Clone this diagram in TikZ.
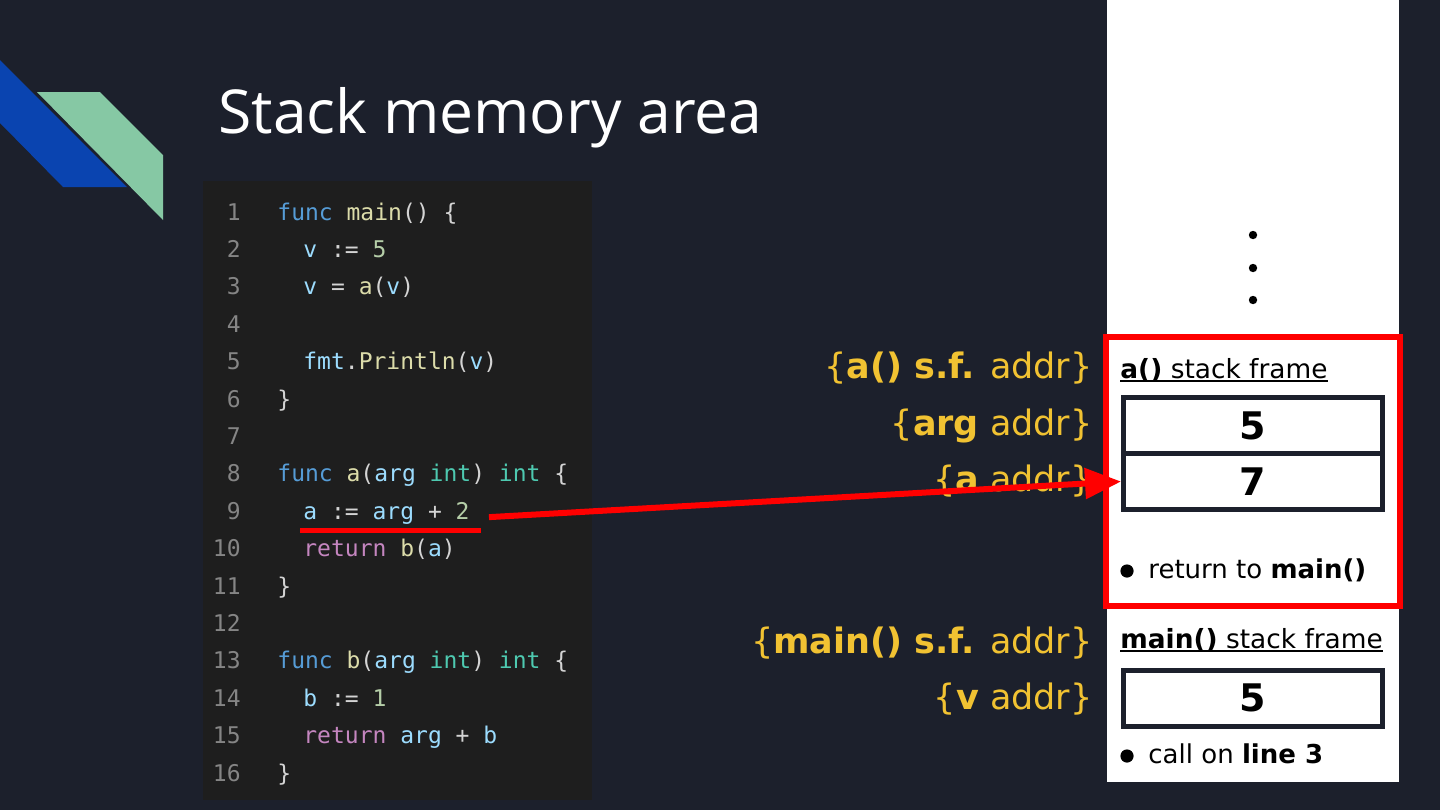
\documentclass[tikz,border=0pt]{standalone}
\usepackage{fontspec}
\setmainfont{Open Sans}
\newfontfamily\labelfont{DejaVu Sans}
\newfontfamily\codefont{DejaVu Sans Mono}
\usetikzlibrary{arrows.meta, positioning}
\definecolor{slidebg}{RGB}{28, 32, 44}
\definecolor{panelbg}{RGB}{30, 30, 30}
\definecolor{ribbonblue}{RGB}{10, 68, 176}
\definecolor{ribbongreen}{RGB}{134, 200, 164}
\definecolor{addryellow}{RGB}{241, 194, 50}
\definecolor{framered}{RGB}{255, 0, 0}
\definecolor{lnogray}{RGB}{133, 133, 133}
\definecolor{kwblue}{RGB}{86, 156, 214}
\definecolor{fnyellow}{RGB}{220, 220, 170}
\definecolor{varblue}{RGB}{156, 220, 254}
\definecolor{numgreen}{RGB}{181, 206, 168}
\definecolor{typeteal}{RGB}{78, 201, 176}
\definecolor{retpurple}{RGB}{197, 134, 192}
\definecolor{punctgray}{RGB}{212, 212, 212}
\newcommand{\ckw}[1]{\textcolor{kwblue}{#1}}
\newcommand{\cfn}[1]{\textcolor{fnyellow}{#1}}
\newcommand{\cvar}[1]{\textcolor{varblue}{#1}}
\newcommand{\cnum}[1]{\textcolor{numgreen}{#1}}
\newcommand{\ctype}[1]{\textcolor{typeteal}{#1}}
\newcommand{\cret}[1]{\textcolor{retpurple}{#1}}

\begin{document}
\begin{tikzpicture}[
    x=0.5pt, y=-0.5pt,
    % Node styles
    lineno/.style={
        font=\codefont\fontsize{11.5}{14}\selectfont,
        text=lnogray,
        anchor=base east,
        inner sep=0pt
    },
    codeline/.style={
        font=\codefont\fontsize{11.5}{14}\selectfont,
        text=punctgray,
        anchor=base west,
        inner sep=0pt
    },
    addr/.style={
        font=\labelfont\fontsize{17.5}{21}\selectfont,
        text=addryellow,
        anchor=base east,
        inner sep=0pt
    },
    framelabel/.style={
        font=\labelfont\fontsize{13.2}{16}\selectfont,
        anchor=base west,
        inner sep=0pt
    },
    cell/.style={
        rectangle,
        draw=slidebg,
        line width=2.5pt,
        minimum width=129.5pt,
        minimum height=28pt,
        inner sep=0pt,
        font=\labelfont\bfseries\fontsize{19}{22}\selectfont
    },
    note/.style={
        font=\labelfont\fontsize{13}{16}\selectfont,
        anchor=base west,
        inner sep=0pt
    },
    redarrow/.style={
        -{Triangle[length=18pt, width=15pt]},
        line width=3pt,
        color=framered
    },
    uline/.style={line width=0.8pt}
]

% ============================================
% BACKGROUND
% ============================================
\fill[slidebg] (0,0) rectangle (1440,810);
\useasboundingbox (0,0) rectangle (1440,810);

\fill[ribbonblue] (0,60) -- (127,187) -- (63,187) -- (0,123) -- cycle;
\fill[ribbongreen] (37,92) -- (100,92) -- (163,155) -- (163,220) -- cycle;

% ============================================
% TITLE
% ============================================
\node[font=\fontsize{30.3}{36}\selectfont, text=white, anchor=base west, inner sep=0pt]
    (title) at (218,133) {Stack memory area};

% ============================================
% CODE PANEL
% ============================================
\fill[panelbg] (203,181) rectangle (592,800);

\foreach \n in {1,...,16}
    \node[lineno] (ln\n) at (241, {220+(\n-1)*37.4}) {\n};

\node[codeline] (c1) at (277,220) {\ckw{func} \cfn{main}() \{};
\node[codeline] (c2) at (303,257.4) {\cvar{v} := \cnum{5}};
\node[codeline] (c3) at (303,294.8) {\cvar{v} = \cfn{a}(\cvar{v})};
\node[codeline] (c5) at (303,369.6) {\cvar{fmt}.\cfn{Println}(\cvar{v})};
\node[codeline] (c6) at (277,407) {\}};
\node[codeline] (c8) at (277,481.8) {\ckw{func} \cfn{a}(\cvar{arg} \ctype{int}) \ctype{int} \{};
\node[codeline] (c9) at (303,519.2) {\cvar{a} := \cvar{arg} + \cnum{2}};
\node[codeline] (c10) at (303,556.6) {\cret{return} \cfn{b}(\cvar{a})};
\node[codeline] (c11) at (277,594) {\}};
\node[codeline] (c13) at (277,668.8) {\ckw{func} \cfn{b}(\cvar{arg} \ctype{int}) \ctype{int} \{};
\node[codeline] (c14) at (303,706.2) {\cvar{b} := \cnum{1}};
\node[codeline] (c15) at (303,743.6) {\cret{return} \cvar{arg} + \cvar{b}};
\node[codeline] (c16) at (277,781) {\}};

% ============================================
% STACK COLUMN
% ============================================
\fill[white] (1107,0) rectangle (1399,782);

% more frames above
\foreach \y in {235,268,300}
    \fill (1253,\y) circle (2.1pt);

% a() stack frame
\node[framelabel] (aframe) at (1120,378) {\textbf{a()} stack frame};
\draw[uline] ([yshift=-1.5pt]aframe.base west) -- ([yshift=-1.5pt]aframe.base east);
\node[cell] (argcell) at (1253,425.5) {5};
\node[cell] (acell) at (1253,481.5) {7};
\fill (1127,571) circle (3.3pt);
\node[note] (retnote) at (1148,578) {return to \textbf{main()}};
\draw[framered, line width=3pt] (1106,337) rectangle (1400,606);

% main() stack frame
\node[framelabel] (mainframe) at (1120,648) {\textbf{main()} stack frame};
\draw[uline] ([yshift=-1.5pt]mainframe.base west) -- ([yshift=-1.5pt]mainframe.base east);
\node[cell] (vcell) at (1253,698) {5};
\fill (1127,756) circle (3.3pt);
\node[note] (callnote) at (1148,763) {call on \textbf{line 3}};

% ============================================
% ADDRESS LABELS
% ============================================
\node[addr] (asfaddr) at (1093,378) {\{\textbf{a() s.f.} addr\}};
\node[addr] (argaddr) at (1093,435) {\{\textbf{arg} addr\}};
\node[addr] (aaddr) at (1093,491) {\{\textbf{a} addr\}};
\node[addr] (mainsfaddr) at (1093,653) {\{\textbf{main() s.f.} addr\}};
\node[addr] (vaddr) at (1093,709) {\{\textbf{v} addr\}};

% ============================================
% LINE 9 -> a CELL
% ============================================
\draw[framered, line width=2.5pt] ([xshift=-1.5pt,yshift=-5.5pt]c9.base west) -- ([xshift=5.5pt,yshift=-5.5pt]c9.base east);
\draw[redarrow] ([xshift=9.5pt,yshift=-2pt]c9.east) -- (acell.west);

\end{tikzpicture}
\end{document}
